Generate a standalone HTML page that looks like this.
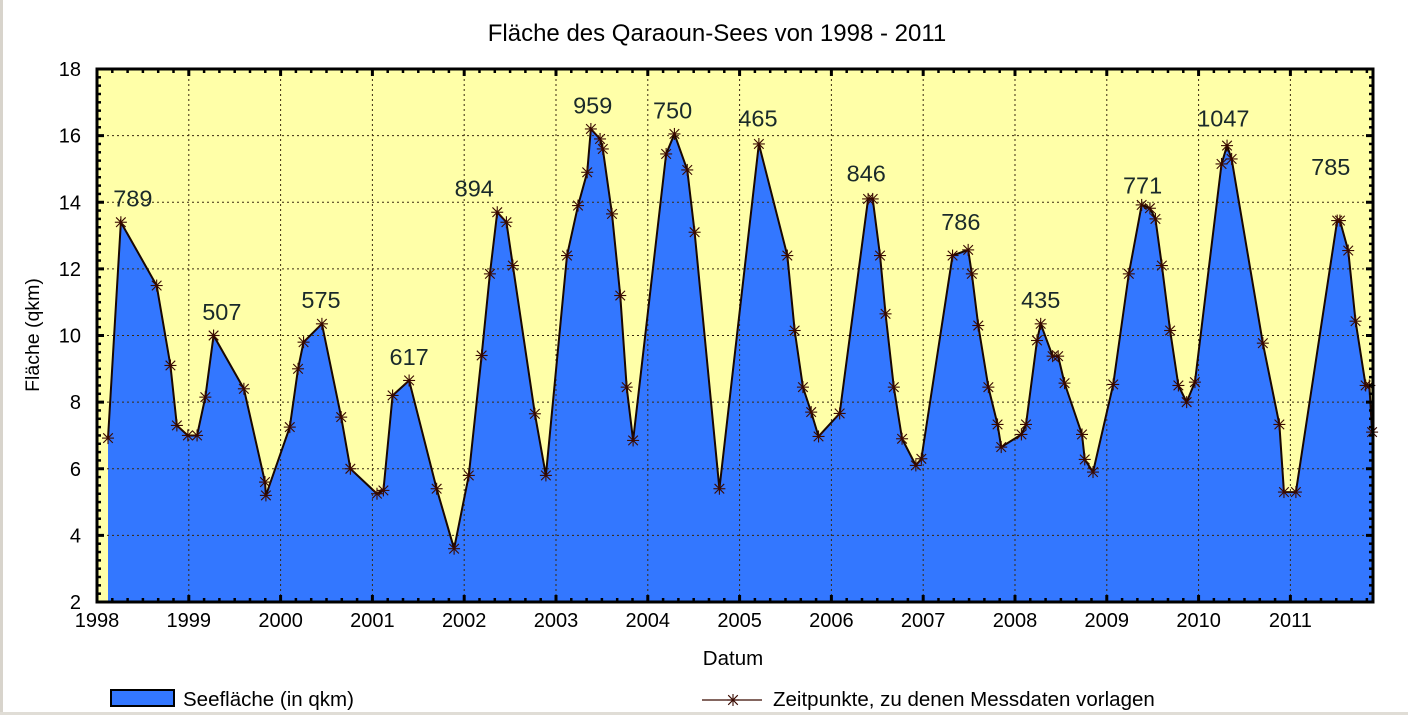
<!DOCTYPE html>
<html><head><meta charset="utf-8"><style>
html,body{margin:0;padding:0;background:#fff;}
svg{display:block;font-family:"Liberation Sans",sans-serif;}
</style></head><body>
<svg id="chart" width="1408" height="715" viewBox="0 0 1408 715">
<rect x="0" y="0" width="3" height="715" fill="#d8d4cc"/>
<rect x="0" y="712" width="1408" height="3" fill="#e0ddd6"/>
<text x="717" y="41" font-size="24" text-anchor="middle" fill="#000">Fläche des Qaraoun-Sees von 1998 - 2011</text>
<text x="733" y="665" font-size="20.5" text-anchor="middle">Datum</text>
<text transform="translate(39,335) rotate(-90)" font-size="19.5" text-anchor="middle">Fläche (qkm)</text>
<g id="plot"></g>
<g>
<rect x="111" y="690" width="63" height="16" fill="#3377ff" stroke="#000" stroke-width="2"/>
<text x="183" y="706" font-size="20.5">Seefläche (in qkm)</text>
<line x1="702" y1="700" x2="762" y2="700" stroke="#3a0a00" stroke-width="1.2"/>
<g id="legstar"></g>
<text x="773" y="706" font-size="20.5">Zeitpunkte, zu denen Messdaten vorlagen</text>
</g>
</svg>
<script>
const years=[0.12,0.26,0.65,0.80,0.87,0.99,1.09,1.18,1.27,1.60,1.83,1.84,2.10,2.19,2.25,2.45,2.66,2.76,3.05,3.12,3.22,3.40,3.70,3.89,4.05,4.19,4.28,4.36,4.46,4.53,4.77,4.89,5.12,5.24,5.34,5.38,5.48,5.51,5.61,5.70,5.77,5.84,6.20,6.29,6.43,6.51,6.78,7.21,7.52,7.60,7.69,7.78,7.86,8.09,8.40,8.45,8.53,8.59,8.68,8.77,8.92,8.98,9.32,9.49,9.53,9.60,9.71,9.81,9.85,10.07,10.12,10.24,10.28,10.41,10.47,10.54,10.73,10.76,10.85,11.07,11.24,11.38,11.47,11.53,11.60,11.69,11.78,11.87,11.96,12.25,12.31,12.36,12.70,12.88,12.93,13.06,13.51,13.54,13.63,13.71,13.82,13.86,13.89];
const areas=[6.92,13.4,11.5,9.1,7.3,7.0,7.0,8.15,10.0,8.4,5.6,5.2,7.25,9.0,9.8,10.35,7.55,6.0,5.25,5.35,8.2,8.65,5.4,3.6,5.8,9.4,11.85,13.7,13.4,12.1,7.65,5.8,12.4,13.9,14.9,16.2,15.9,15.6,13.65,11.2,8.45,6.85,15.45,16.05,14.97,13.1,5.4,15.75,12.4,10.15,8.45,7.7,6.97,7.66,14.1,14.1,12.4,10.65,8.45,6.9,6.1,6.3,12.4,12.57,11.85,10.3,8.45,7.33,6.65,7.03,7.33,9.85,10.35,9.38,9.38,8.57,7.03,6.28,5.9,8.53,11.85,13.92,13.82,13.5,12.1,10.15,8.5,8.0,8.6,15.15,15.7,15.3,9.77,7.33,5.3,5.3,13.45,13.45,12.55,10.43,8.5,8.5,7.1];
const peakLabels=["789","507","575","617","894","959","750","465","846","786","435","771","1047","785"];
const peakLabelYears=[0.39,1.36,2.44,3.40,4.11,5.40,6.27,7.20,8.38,9.41,10.28,11.39,12.27,13.44];
const peakLabelValues=[13.9,10.5,10.85,9.15,14.2,16.7,16.55,16.3,14.65,13.2,10.85,14.3,16.3,14.85];
const xTickLabels=["1998","1999","2000","2001","2002","2003","2004","2005","2006","2007","2008","2009","2010","2011"];
const yTickLabels=["2","4","6","8","10","12","14","16","18"];

const L=97,R=1373,T=69,B=602,XMAX=13.9,YMIN=2,YMAX=18;
const X=v=>L+(v/XMAX)*(R-L);
const Y=v=>B-(v-YMIN)/(YMAX-YMIN)*(B-T);
const NS="http://www.w3.org/2000/svg";
const plot=document.getElementById('plot');
function mk(tag,attrs,parent){const e=document.createElementNS(NS,tag);for(const k in attrs)e.setAttribute(k,attrs[k]);(parent||plot).appendChild(e);return e;}

let bg=mk('rect',{x:L,y:T,width:R-L,height:B-T,fill:'#ffffa8'});



let d='M'+X(years[0])+','+B;
years.forEach((v,i)=>{d+=' L'+X(v)+','+Y(areas[i]);});
d+=' L'+X(years[years.length-1])+','+B+' Z';
let area=mk('path',{d:d,fill:'#3377ff',stroke:'none'});



xTickLabels.forEach((t,i)=>{
  if(i>0){let g=mk('line',{x1:X(i),x2:X(i),y1:T,y2:B,stroke:'#3a2a10','stroke-width':1,'stroke-dasharray':'2,3'});
  
  }
});
yTickLabels.forEach((t,i)=>{
  const v=+t; if(v>YMIN&&v<YMAX){let g=mk('line',{x1:L,x2:R,y1:Y(v),y2:Y(v),stroke:'#3a2a10','stroke-width':1,'stroke-dasharray':'2,3'});
  
  }
});

let ld='';
years.forEach((v,i)=>{ld+=(i?' L':'M')+X(v)+','+Y(areas[i]);});
let line=mk('path',{d:ld,fill:'none',stroke:'#1a0800','stroke-width':2});



function star(cx,cy,r,parent){
  const g=mk('g',{stroke:'#3a0a00','stroke-width':1.1},parent);
  mk('line',{x1:cx-r,y1:cy,x2:cx+r,y2:cy},g);
  mk('line',{x1:cx,y1:cy-r,x2:cx,y2:cy+r},g);
  mk('line',{x1:cx-r*0.8,y1:cy-r*0.8,x2:cx+r*0.8,y2:cy+r*0.8},g);
  mk('line',{x1:cx-r*0.8,y1:cy+r*0.8,x2:cx+r*0.8,y2:cy-r*0.8},g);
  return g;
}
years.forEach((v,i)=>{
  const s=star(X(v),Y(areas[i]),6);
  
  
});
const ls=star(733,700,6,document.getElementById('legstar'));

peakLabels.forEach((t,i)=>{
  const e=mk('text',{x:X(peakLabelYears[i]),y:Y(peakLabelValues[i])+1,'font-size':23.5,'text-anchor':'middle',fill:'#1a2a2a'});
  e.textContent=t;
  
  
});

let fr=mk('rect',{x:L,y:T,width:R-L,height:B-T,fill:'none',stroke:'#000','stroke-width':3});



for(let k=0;k<=XMAX*6;k++){
  const v=k/6, major=k%6===0, len=major?7:4;
  mk('line',{x1:X(v),x2:X(v),y1:B,y2:B-len,stroke:'#000','stroke-width':major?3:2.5});
  mk('line',{x1:X(v),x2:X(v),y1:T,y2:T+len,stroke:'#000','stroke-width':major?3:2.5});
}
xTickLabels.forEach((t,i)=>{
  const e=mk('text',{x:X(i),y:627,'font-size':20,'text-anchor':'middle'});
  e.textContent=t;
  
  
});
for(let v=YMIN;v<=YMAX+0.001;v+=0.25){
  const major=Math.abs(v-Math.round(v/2)*2)<0.01, len=major?7:4;
  mk('line',{x1:L,x2:L+len,y1:Y(v),y2:Y(v),stroke:'#000','stroke-width':major?3:2.5});
  mk('line',{x1:R,x2:R-len,y1:Y(v),y2:Y(v),stroke:'#000','stroke-width':major?3:2.5});
}
yTickLabels.forEach((t)=>{
  const e=mk('text',{x:81,y:Y(+t)+7,'font-size':20,'text-anchor':'end'});
  e.textContent=t;
  
  
});
</script>
</body></html>
